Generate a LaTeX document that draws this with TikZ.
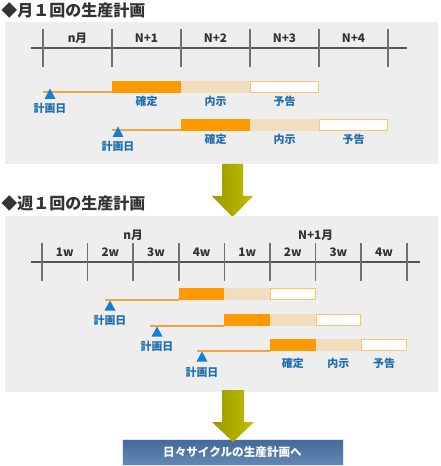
\documentclass[tikz,border=0pt]{standalone}
\usepackage{fontspec}
\setmainfont{Noto Sans CJK JP}
\definecolor{panelgray}{HTML}{EEEEEE}
\definecolor{axisgray}{HTML}{555555}
\definecolor{tickgray}{HTML}{707070}
\definecolor{textgray}{HTML}{333333}
\definecolor{confirm}{HTML}{FF9900}
\definecolor{naiji}{HTML}{F2DDBE}
\definecolor{yokokuedge}{HTML}{FFC466}
\definecolor{leadorange}{HTML}{F5A33A}
\definecolor{triblue}{HTML}{1380D8}
\definecolor{lblblue}{HTML}{1E6EAE}
\definecolor{arrowdark}{HTML}{999900}
\definecolor{arrowlight}{HTML}{C2BE00}
\definecolor{boxtop}{HTML}{44699A}
\definecolor{boxbottom}{HTML}{6288B4}
\newcommand\blockrow[5]{%
  \node[confblk, minimum width=#4*0.75pt, minimum height=#5*0.75pt, anchor=north west] (#1c) at (#2,#3) {};
  \node[naijiblk, minimum width=#4*0.75pt, minimum height=#5*0.75pt, anchor=north west] (#1n) at (#1c.north east) {};
  \node[yokokublk, minimum width=#4*0.75pt-0.75pt, minimum height=#5*0.75pt-0.75pt, anchor=north west] (#1y) at ([xshift=0.375pt,yshift=-0.375pt]#1n.north east) {};
}
\begin{document}
\begin{tikzpicture}[x=0.75pt,y=-0.75pt,
  titletxt/.style={font=\bfseries\fontsize{12pt}{12pt}\selectfont, text=textgray, inner sep=0pt, anchor=west},
  hdrtxt/.style={font=\bfseries\fontsize{8.8pt}{9pt}\selectfont, text=textgray, inner sep=0pt},
  lbltxt/.style={font=\bfseries\fontsize{8.2pt}{9pt}\selectfont, text=lblblue, inner sep=0pt},
  axisline/.style={draw=axisgray, line width=1.6pt},
  tickline/.style={draw=tickgray, line width=1.1pt},
  confblk/.style={fill=confirm, draw=none, inner sep=0pt, outer sep=0pt},
  naijiblk/.style={fill=naiji, draw=none, inner sep=0pt, outer sep=0pt},
  yokokublk/.style={fill=white, draw=yokokuedge, line width=0.75pt, inner sep=0pt, outer sep=0pt},
  leadline/.style={draw=leadorange, line width=1.5pt},
  trimark/.style={fill=triblue},
  bigarrow/.style={left color=arrowdark, right color=arrowlight},
  finalbox/.style={top color=boxtop, bottom color=boxbottom, draw=white!80!boxbottom, line width=0.6pt,
    minimum width=221*0.75pt, minimum height=26*0.75pt, inner sep=0pt,
    font=\bfseries\fontsize{8.7pt}{9pt}\selectfont, text=white}
]
\useasboundingbox (0,0) rectangle (440,466);

% ---------- Section 1 ----------
\node[titletxt] (title1) at (1,10) {◆月１回の生産計画};
\fill[panelgray] (5,22) rectangle (438,164);
\draw[axisline] (31,48) -- (407,48);
\foreach \i in {0,...,5} { \draw[tickline] ({43+69*\i},29) -- ({43+69*\i},67); }
\node[hdrtxt] (m0) at (77.5,38) {n月};
\node[hdrtxt] (m1) at (146.5,38) {N+1};
\node[hdrtxt] (m2) at (215.5,38) {N+2};
\node[hdrtxt] (m3) at (284.5,38) {N+3};
\node[hdrtxt] (m4) at (353.5,38) {N+4};

% row 1
\blockrow{a}{112}{81}{69}{12}
\coordinate (as) at (43,92);
\draw[leadline] (as) -- (as -| ac.west);
\fill[trimark] (50,88.5) -- (55.5,99) -- (44.5,99) -- cycle;
\node[lbltxt] (ad) at (50,108) {計画日};
\node[lbltxt] (ack) at (146.5,101) {確定};
\node[lbltxt] (anj) at (215.5,101) {内示};
\node[lbltxt] (ayk) at (284.5,101) {予告};

% row 2
\blockrow{b}{181}{119}{69}{12}
\coordinate (bs) at (112,130.5);
\draw[leadline] (bs) -- (bs -| bc.west);
\fill[trimark] (118,126.5) -- (123.5,137) -- (112.5,137) -- cycle;
\node[lbltxt] (bd) at (118,146) {計画日};
\node[lbltxt] (bck) at (215.5,139.5) {確定};
\node[lbltxt] (bnj) at (284.5,139.5) {内示};
\node[lbltxt] (byk) at (353.5,139.5) {予告};

% arrow 1
\shade[bigarrow] (222,164) -- (243,164) -- (243,196) -- (253,196) -- (232.5,217) -- (212,196) -- (222,196) -- cycle;

% ---------- Section 2 ----------
\node[titletxt] (title2) at (1,203) {◆週１回の生産計画};
\fill[panelgray] (5,216) rectangle (438,392);
\draw[axisline] (31,262) -- (420,262);
\foreach \i in {0,...,8} { \draw[tickline] ({42+45.6*\i},243) -- ({42+45.6*\i},281); }
\node[hdrtxt] (nm) at (133.2,235) {n月};
\node[hdrtxt] (nm1) at (315.6,235) {N+1月};
\foreach \i/\w in {0/1w,1/2w,2/3w,3/4w,4/1w,5/2w,6/3w,7/4w} {
  \node[hdrtxt] (w\i) at ({42+45.6*(\i+0.5)},252) {\w};
}

% week row 1
\blockrow{c}{178.8}{288}{45.6}{12}
\coordinate (cs) at (105,299.5);
\draw[leadline] (cs) -- (cs -| cc.west);
\fill[trimark] (110,300.5) -- (115.5,310.5) -- (104.5,310.5) -- cycle;
\node[lbltxt] (cd) at (110,320) {計画日};

% week row 2
\blockrow{d}{224.4}{314}{45.6}{12}
\coordinate (ds) at (150,325.5);
\draw[leadline] (ds) -- (ds -| dc.west);
\fill[trimark] (157,326.5) -- (162.5,336.5) -- (151.5,336.5) -- cycle;
\node[lbltxt] (dd) at (157,346) {計画日};

% week row 3
\blockrow{e}{270}{339}{45.6}{12}
\coordinate (es) at (197,350.5);
\draw[leadline] (es) -- (es -| ec.west);
\fill[trimark] (202,351.5) -- (207.5,361.5) -- (196.5,361.5) -- cycle;
\node[lbltxt] (ed) at (202,372) {計画日};
\node[lbltxt] (eck) at (292.8,363) {確定};
\node[lbltxt] (enj) at (338.4,363) {内示};
\node[lbltxt] (eyk) at (384,363) {予告};

% final box and arrow 2
\node[finalbox] (final) at (232.5,452) {日々サイクルの生産計画へ};
\shade[bigarrow] (222,390) -- (244,390) -- (244,422) -- (254,422) -- (233,442) -- (212,422) -- (222,422) -- cycle;
\end{tikzpicture}
\end{document}
